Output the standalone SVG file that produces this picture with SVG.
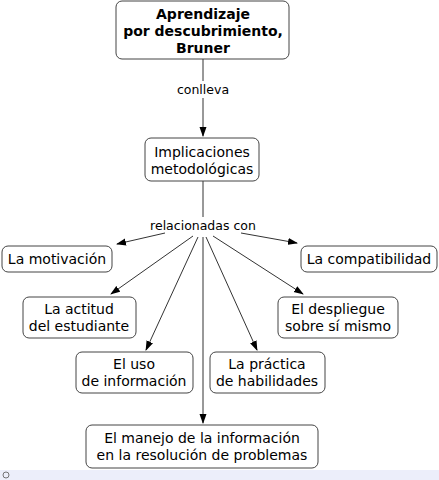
<svg xmlns="http://www.w3.org/2000/svg" width="439" height="480" viewBox="0 0 439 480">
<style>
.box{fill:#fff;stroke:#444;stroke-width:1}
.t{font-family:"DejaVu Sans",Verdana,sans-serif;font-size:14px;fill:#000;text-anchor:middle}
.b{font-weight:bold;font-size:14px}
.lbl{font-family:"DejaVu Sans",Verdana,sans-serif;font-size:12.5px;fill:#000;text-anchor:middle}
.c{stroke:#333;stroke-width:1;fill:none}
</style>
<defs>
<marker id="ah" markerWidth="10" markerHeight="8" refX="9" refY="4" orient="auto" markerUnits="userSpaceOnUse">
<path d="M0,0.5 L10,4 L0,7.5 z" fill="#000"/>
</marker>
</defs>
<rect width="439" height="480" fill="#fff"/>
<g id="connectors">
<line class="c" x1="203" y1="59" x2="203" y2="81"/>
<line class="c" x1="203" y1="98" x2="203" y2="136" marker-end="url(#ah)"/>
<line class="c" x1="203" y1="181" x2="203" y2="217"/>
<line class="c" x1="165" y1="233" x2="117" y2="244" marker-end="url(#ah)"/>
<line class="c" x1="241" y1="233" x2="297" y2="243" marker-end="url(#ah)"/>
<line class="c" x1="193" y1="236" x2="111" y2="294" marker-end="url(#ah)"/>
<line class="c" x1="213" y1="236" x2="303" y2="294" marker-end="url(#ah)"/>
<line class="c" x1="198" y1="237" x2="146" y2="350" marker-end="url(#ah)"/>
<line class="c" x1="206" y1="237" x2="257" y2="350" marker-end="url(#ah)"/>
<line class="c" x1="203" y1="237" x2="203" y2="423" marker-end="url(#ah)"/>
<text class="lbl" x="203" y="94">conlleva</text>
<text class="lbl" x="203" y="230">relacionadas con</text>
</g>
<g id="n-aprendizaje">
<rect class="box" x="116" y="1" width="173" height="58" rx="6"/>
<text class="t b" x="203" y="19">Aprendizaje</text>
<text class="t b" x="203" y="36">por descubrimiento,</text>
<text class="t b" x="203" y="53">Bruner</text>
</g>
<g id="n-implicaciones">
<rect class="box" x="145" y="138" width="114" height="43" rx="6"/>
<text class="t" x="202" y="157">Implicaciones</text>
<text class="t" x="202" y="174">metodológicas</text>
</g>
<g id="n-motivacion">
<rect class="box" x="2" y="246" width="110" height="26" rx="6"/>
<text class="t" x="57" y="264">La motivación</text>
</g>
<g id="n-compatibilidad">
<rect class="box" x="301" y="246" width="136" height="26" rx="6"/>
<text class="t" x="369" y="264">La compatibilidad</text>
</g>
<g id="n-actitud">
<rect class="box" x="23" y="297" width="113" height="41" rx="6"/>
<text class="t" x="79" y="314">La actitud</text>
<text class="t" x="79" y="331">del estudiante</text>
</g>
<g id="n-despliegue">
<rect class="box" x="278" y="297" width="120" height="41" rx="6"/>
<text class="t" x="338" y="314">El despliegue</text>
<text class="t" x="338" y="331">sobre sí mismo</text>
</g>
<g id="n-uso">
<rect class="box" x="76" y="352" width="117" height="41" rx="6"/>
<text class="t" x="134" y="369">El uso</text>
<text class="t" x="134" y="386">de información</text>
</g>
<g id="n-practica">
<rect class="box" x="210" y="352" width="115" height="41" rx="6"/>
<text class="t" x="267" y="369">La práctica</text>
<text class="t" x="267" y="386">de habilidades</text>
</g>
<g id="n-manejo">
<rect class="box" x="86" y="425" width="232" height="43" rx="6"/>
<text class="t" x="202" y="443">El manejo de la información</text>
<text class="t" x="202" y="460">en la resolución de problemas</text>
</g>
<g id="footer">
<rect x="0" y="470" width="439" height="10" fill="#eceefa"/>
<circle cx="6" cy="475" r="3" fill="none" stroke="#555" stroke-width="0.8"/>
</g>
</svg>
